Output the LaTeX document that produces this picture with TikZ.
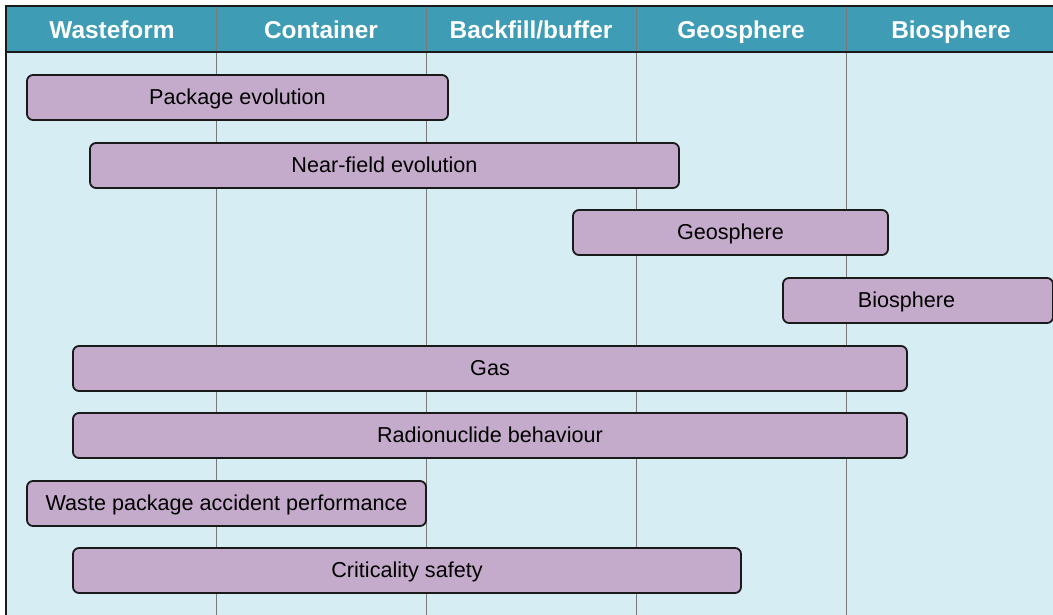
\documentclass[tikz,border=0pt]{standalone}
\usepackage{fontspec}
\setmainfont{Liberation Sans}
\definecolor{headfill}{HTML}{3E9CB5}
\definecolor{bodyfill}{HTML}{D6EDF4}
\definecolor{boxfill}{HTML}{C5ABCB}
\definecolor{boxline}{HTML}{1A1A1A}
\definecolor{sepline}{HTML}{7A7A7A}
\tikzset{
  phase/.style={draw=boxline, line width=1.8pt, fill=boxfill, rounded corners=6pt,
    minimum height=45pt, inner sep=0pt, text=black,
    text height=17.5pt, text depth=4.5pt,
    font=\fontsize{21.6}{25}\selectfont},
  colhead/.style={text=white, font=\fontsize{24.4}{28}\selectfont\bfseries, inner sep=0pt,
    text height=21.5pt, text depth=5pt}
}
\begin{document}
\begin{tikzpicture}[x=1pt,y=-1pt]
\useasboundingbox (0,0) rectangle (1053,614);
\clip (0,0) rectangle (1053,614);
% background, header band and frame
\fill[white] (0,0) rectangle (1053,614);
\fill[bodyfill] (6,6) rectangle (1060,620);
\fill[headfill] (6,6) rectangle (1060,52);
% column separators
\foreach \x in {216,426,636,846}
  \draw[sepline, line width=1pt] (\x,6) -- (\x,620);
\draw[boxline, line width=2.5pt] (6,52) -- (1060,52);
\draw[boxline, line width=1.6pt] (6,620) -- (6,6) -- (1060,6);
% column headings
\node[colhead] (hwaste) at (112,30) {Wasteform};
\node[colhead] (hcont)  at (321,30) {Container};
\node[colhead] (hback)  at (531,30) {Backfill/buffer};
\node[colhead] (hgeo)   at (741,30) {Geosphere};
\node[colhead] (hbio)   at (951,30) {Biosphere};
% phase bars
\node[phase, minimum width=421pt] (pkg)  at (237.5,97.5)  {Package evolution};
\node[phase, minimum width=589pt] (near) at (384.5,165.5) {Near-field evolution};
\node[phase, minimum width=315pt] (geo)  at (730.5,232.5) {Geosphere};
\node[phase, minimum width=270pt] (bio)  at (918,300.5)   {Biosphere\hspace*{23pt}};
\node[phase, minimum width=834pt] (gas)  at (490,368.5)   {Gas};
\node[phase, minimum width=834pt] (rad)  at (490,435.5)   {Radionuclide behaviour};
\node[phase, minimum width=399pt] (acc)  at (226.5,503.5) {Waste package accident performance};
\node[phase, minimum width=668pt] (crit) at (407,570.5)   {Criticality safety};
\end{tikzpicture}
\end{document}
